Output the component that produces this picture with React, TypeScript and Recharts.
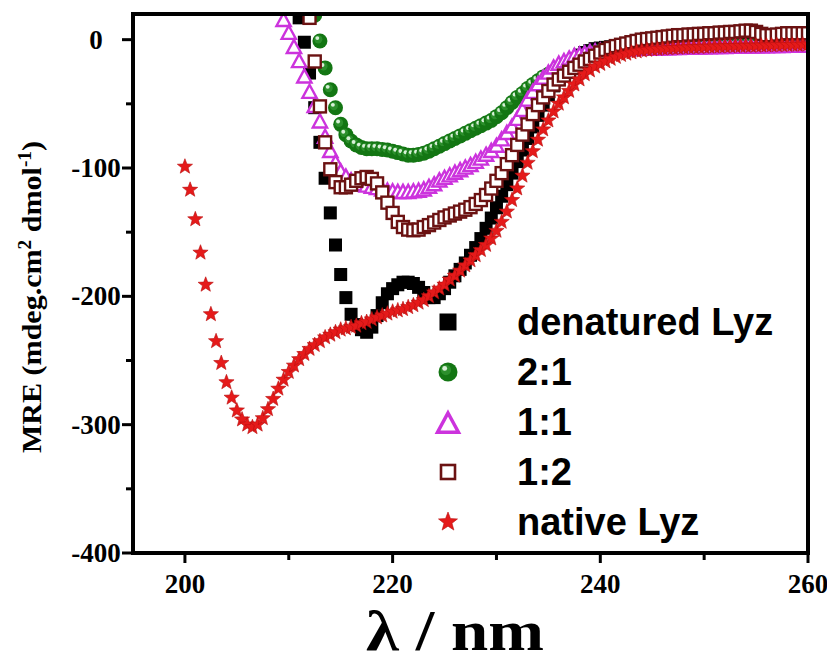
import React from 'react';
import { ScatterChart, Scatter, XAxis, YAxis, ReferenceLine, Legend } from 'recharts';

// wavelength grid of the CD spectra (nm)
const WAVELENGTH = [
  200, 200.5, 201, 201.5, 202, 202.5, 203, 203.5, 204, 204.5,
  205, 205.5, 206, 206.5, 207, 207.5, 208, 208.5, 209, 209.5,
  210, 210.5, 211, 211.5, 212, 212.5, 213, 213.5, 214, 214.5,
  215, 215.5, 216, 216.5, 217, 217.5, 218, 218.5, 219, 219.5,
  220, 220.5, 221, 221.5, 222, 222.5, 223, 223.5, 224, 224.5,
  225, 225.5, 226, 226.5, 227, 227.5, 228, 228.5, 229, 229.5,
  230, 230.5, 231, 231.5, 232, 232.5, 233, 233.5, 234, 234.5,
  235, 235.5, 236, 236.5, 237, 237.5, 238, 238.5, 239, 239.5,
  240, 240.5, 241, 241.5, 242, 242.5, 243, 243.5, 244, 244.5,
  245, 245.5, 246, 246.5, 247, 247.5, 248, 248.5, 249, 249.5,
  250, 250.5, 251, 251.5, 252, 252.5, 253, 253.5, 254, 254.5,
  255, 255.5, 256, 256.5, 257, 257.5, 258, 258.5, 259, 259.5,
  260,
];

// MRE values, each series starts at its own wavelength
const DENATURED_START = 211;
const DENATURED = [
  17, -2, -26, -53, -80, -108, -135, -160, -183, -201,
  -214, -222, -226, -228, -224, -215, -205, -198, -194, -191,
  -189, -189, -190, -193, -197, -201, -201, -198, -194, -189,
  -184, -179, -174, -168, -162, -155, -147, -139, -131, -122,
  -113, -104, -95, -86, -77, -68, -59, -51, -43, -36,
  -30, -24, -19, -15, -12, -10, -8.5, -7, -6.5, -6,
  -5.5, -5, -5, -4.8, -4.6, -4.5, -4.4, -4.3, -4.2, -4.1,
  -4, -4, -4, -4, -3.9, -3.9, -3.8, -3.8, -3.7, -3.7,
  -3.6, -3.6, -3.5, -3.5, -3.5, -3.4, -3.4, -3.3, -3.3, -3.3,
  -3.2, -3.2, -3.2, -3.1, -3.1, -3, -3, -3, -3,
];

const RATIO_2_1_START = 212.5;
const RATIO_2_1 = [
  19, -1, -22, -39, -53, -66, -74, -79, -82, -84,
  -85, -85, -85, -85.5, -86, -87, -88, -89, -90, -90,
  -89.5, -88.5, -87, -85, -83, -81, -79, -77, -75, -73,
  -71, -69, -67, -65, -63, -60, -57, -53, -49, -45,
  -42, -38, -35, -32, -29, -27, -25, -23, -20, -18,
  -16, -14, -12.5, -11, -10, -9, -8.5, -8, -7.7, -7.5,
  -7.3, -7.1, -7, -6.8, -6.7, -6.6, -6.5, -6.4, -6.3, -6.2,
  -6.1, -6, -5.9, -5.8, -5.7, -5.6, -5.5, -5.4, -5.3, -5.2,
  -5.1, -5, -5, -4.9, -4.8, -4.8, -4.7, -4.6, -4.5, -4.5,
  -4.4, -4.3, -4.2, -4.1, -4, -4,
];

const RATIO_1_1_START = 209.5;
const RATIO_1_1 = [
  15, 5, -6, -17, -29, -41, -52, -64, -76, -87,
  -96, -103, -107, -110, -112, -113, -114, -115, -116, -117,
  -118, -118.5, -119, -119, -119, -118.5, -118, -117, -115, -113,
  -110, -108, -106, -104, -102, -100, -98, -95.5, -93, -90,
  -87, -83, -78, -73, -68, -62, -55, -47, -41, -35,
  -30, -26, -22, -19, -17, -15, -13, -12, -11, -10,
  -9.5, -9, -8.7, -8.4, -8.2, -8, -7.8, -7.7, -7.6, -7.5,
  -7.4, -7.3, -7.2, -7.1, -7, -6.9, -6.8, -6.7, -6.6, -6.5,
  -6.4, -6.3, -6.2, -6.1, -6, -6, -5.9, -5.8, -5.7, -5.7,
  -5.6, -5.5, -5.5, -5.4, -5.3, -5.3, -5.2, -5.1, -5.1, -5,
  -5, -5,
];

const RATIO_1_2_START = 212;
const RATIO_1_2 = [
  17, -17, -52, -80, -101, -111, -115, -115, -113, -110,
  -108, -107, -108.5, -112, -119, -127, -135, -142, -146, -148,
  -148.5, -148, -146, -144.5, -142.5, -140.5, -138.5, -137, -135.5, -134,
  -132.5, -130.5, -128, -125, -121, -116, -110, -104, -97, -90,
  -82, -74, -66, -58, -51, -45, -40, -35, -31, -28,
  -25, -22, -19.5, -17, -15, -12.5, -10, -8, -6.5, -5,
  -4, -3, -2, -1, 0, 0.5, 1, 1.5, 2, 2.5,
  3, 3.5, 3.5, 4, 4, 4.5, 4.5, 5, 5, 5.5,
  5.5, 6, 6, 6.5, 7, 7, 6, 4.5, 3.5, 3.5,
  4, 4.5, 5, 5, 5, 5, 5,
];

const NATIVE_START = 200;
const NATIVE = [
  -99, -117, -140, -166, -191, -214, -235, -252, -267, -279,
  -289, -296, -300, -302, -300, -295, -288, -280, -272, -265,
  -259, -254, -249, -245, -241, -238, -235, -232, -230, -228,
  -226, -225, -224, -223, -221, -220, -218, -216.5, -215, -213.5,
  -212, -211, -210, -208.5, -207, -205, -203, -200, -197, -194,
  -191, -187, -184, -180, -176, -172, -168, -164, -160, -155,
  -149, -142, -134, -125, -116, -106, -96, -87, -78, -70,
  -63, -56, -50, -45, -40, -35, -31, -27, -24, -21,
  -19, -17, -15, -13.5, -12, -11, -10, -9.2, -8.5, -8,
  -7.6, -7.3, -7, -6.8, -6.6, -6.4, -6.2, -6, -5.9, -5.8,
  -5.6, -5.5, -5.4, -5.3, -5.2, -5.1, -5, -4.9, -4.8, -4.8,
  -4.7, -4.6, -4.5, -4.4, -4.3, -4.2, -4.1, -4, -4, -3.9,
  -3.8,
];

const X_TICKS = [200, 210, 220, 230, 240, 250, 260];
const Y_TICKS = [-400, -350, -300, -250, -200, -150, -100, -50, 0];
const LEGEND_LABELS = ['denatured Lyz', '2:1', '1:1', '1:2', 'native Lyz'];

const toPoints = (start: number, values: number[]) => {
  const i0 = WAVELENGTH.indexOf(start);
  return values.map((v, i) => ({ x: WAVELENGTH[i0 + i], y: v }));
};

const SERIF = '"Liberation Serif", "Times New Roman", serif';
const SANS = '"Liberation Sans", Arial, sans-serif';

const GREEN = '#137613';
const MAGENTA = '#cc33dd';
const BROWN = '#6b1212';
const RED = '#e51a1a';

// chart box
const W = 827;
const H = 662;
const MARGIN = { top: 14, right: 19, left: 0, bottom: 0 };
const Y_AXIS_W = 133;
const X_AXIS_H = 109;

// marker shapes
const BlackSquare = ({ cx, cy, s = 13 }: any) => (
  <rect x={cx - s / 2} y={cy - s / 2} width={s} height={s} fill="#000" />
);

const Sphere = ({ cx, cy, r = 7.5 }: any) => (
  <g>
    <circle cx={cx} cy={cy} r={r} fill={GREEN} />
    <circle cx={cx - r * 0.22} cy={cy - r * 0.22} r={r * 0.55} fill="#2c8f2c" />
    <circle cx={cx - r * 0.35} cy={cy - r * 0.38} r={r * 0.26} fill="#d8f0d8" />
  </g>
);

const Triangle = ({ cx, cy, s = 7.5, w = 2.4 }: any) => (
  <polygon
    points={`${cx},${cy - s} ${cx + s * 0.95},${cy + s * 0.75} ${cx - s * 0.95},${cy + s * 0.75}`}
    fill="#fff"
    stroke={MAGENTA}
    strokeWidth={w}
  />
);

const OpenSquare = ({ cx, cy, s = 12, w = 2.4 }: any) => (
  <rect x={cx - s / 2} y={cy - s / 2} width={s} height={s} fill="#fff" stroke={BROWN} strokeWidth={w} />
);

const Star = ({ cx, cy, R = 8 }: any) => {
  const pts: string[] = [];
  for (let i = 0; i < 10; i++) {
    const a = -Math.PI / 2 + (i * Math.PI) / 5;
    const rad = i % 2 === 0 ? R : R * 0.42;
    pts.push(`${cx + rad * Math.cos(a)},${cy + rad * Math.sin(a)}`);
  }
  return <polygon points={pts.join(' ')} fill={RED} stroke="#b80f0f" strokeWidth={0.6} />;
};

const XTick = (props: any) => {
  const { x, y, payload } = props;
  const major = payload.value % 20 === 0;
  return (
    <g>
      <line x1={x} x2={x} y1={y} y2={y + (major ? 10 : 7)} stroke="#000" strokeWidth={3} />
      {major && (
        <text x={x} y={y + 40} textAnchor="middle" fontFamily={SERIF} fontWeight="bold" fontSize={27} fill="#000">
          {payload.value}
        </text>
      )}
    </g>
  );
};

const YTick = (props: any) => {
  const { x, y, payload } = props;
  const major = payload.value % 100 === 0;
  return (
    <g>
      <line x1={x} x2={x - (major ? 11 : 7)} y1={y} y2={y} stroke="#000" strokeWidth={3} />
      {major && (
        <text x={x - 37} y={y + 9} textAnchor="middle" fontFamily={SERIF} fontWeight="bold" fontSize={27} fill="#000">
          {payload.value}
        </text>
      )}
    </g>
  );
};

const YTitle = () => (
  <text
    transform="translate(41, 297) rotate(-90)"
    textAnchor="middle"
    textLength={312}
    lengthAdjust="spacingAndGlyphs"
    fontFamily={SERIF}
    fontWeight="bold"
    fontSize={28}
    fill="#000"
  >
    MRE (mdeg.cm<tspan dy={-10} fontSize={18}>2</tspan>
    <tspan dy={10}> dmol</tspan>
    <tspan dy={-10} fontSize={18}>-1</tspan>
    <tspan dy={10}>)</tspan>
  </text>
);

const XTitle = () => (
  <text
    x={455}
    y={650}
    textAnchor="middle"
    textLength={178}
    lengthAdjust="spacingAndGlyphs"
    fontFamily={SERIF}
    fontWeight="bold"
    fontSize={56}
    fill="#000"
  >
    λ / nm
  </text>
);

const LEGEND_ICONS = [
  <BlackSquare cx={26} cy={25} s={17} />,
  <Sphere cx={26} cy={25} r={9.5} />,
  <Triangle cx={26} cy={27} s={11} w={3.5} />,
  <OpenSquare cx={26} cy={25} s={14} w={2.6} />,
  <Star cx={26} cy={25} R={10} />,
];

const LegendBox = () => (
  <div>
    {LEGEND_LABELS.map((label, i) => (
      <div key={label} style={{ display: 'flex', alignItems: 'center', height: 50 }}>
        <svg width={52} height={50} style={{ flex: 'none' }}>
          {LEGEND_ICONS[i]}
        </svg>
        <span style={{ marginLeft: 43, fontFamily: SANS, fontWeight: 'bold', fontSize: 38, color: '#000', whiteSpace: 'nowrap' }}>
          {label}
        </span>
      </div>
    ))}
  </div>
);

const FRAME = { stroke: '#000', strokeWidth: 4 };

export default function App() {
  const left = MARGIN.left + Y_AXIS_W;
  const right = W - MARGIN.right;
  const top = MARGIN.top;
  const bottom = H - MARGIN.bottom - X_AXIS_H;
  return (
    <div style={{ position: 'absolute', left: 0, top: 0, width: W, height: H, background: '#fff' }}>
      <ScatterChart width={W} height={H} margin={MARGIN}>
        <XAxis
          type="number"
          dataKey="x"
          domain={[195, 260]}
          ticks={X_TICKS}
          interval={0}
          allowDataOverflow
          height={X_AXIS_H}
          axisLine={FRAME}
          tickLine={false}
          tickSize={0}
          tickMargin={0}
          tick={<XTick />}
          label={<XTitle />}
        />
        <YAxis
          type="number"
          dataKey="y"
          domain={[-400, 20]}
          ticks={Y_TICKS}
          interval={0}
          allowDataOverflow
          width={Y_AXIS_W}
          axisLine={FRAME}
          tickLine={false}
          tickSize={0}
          tickMargin={0}
          tick={<YTick />}
          label={<YTitle />}
        />
        <Scatter data={toPoints(DENATURED_START, DENATURED)} shape={(p: any) => <BlackSquare cx={p.cx} cy={p.cy} />} isAnimationActive={false} />
        <Scatter data={toPoints(RATIO_2_1_START, RATIO_2_1)} shape={(p: any) => <Sphere cx={p.cx} cy={p.cy} />} isAnimationActive={false} />
        <Scatter data={toPoints(RATIO_1_1_START, RATIO_1_1)} shape={(p: any) => <Triangle cx={p.cx} cy={p.cy} />} isAnimationActive={false} />
        <Scatter data={toPoints(RATIO_1_2_START, RATIO_1_2)} shape={(p: any) => <OpenSquare cx={p.cx} cy={p.cy} />} isAnimationActive={false} />
        <Scatter data={toPoints(NATIVE_START, NATIVE)} shape={(p: any) => <Star cx={p.cx} cy={p.cy} />} isAnimationActive={false} />
        <ReferenceLine y={-400} ifOverflow="visible" {...FRAME} />
        <Legend
          layout="vertical"
          align="center"
          verticalAlign="middle"
          content={<LegendBox />}
          wrapperStyle={{ left: 422, top: 297, width: 400 }}
        />
      </ScatterChart>
      {/* box frame round the plot area, drawn as four separate strokes */}
      <svg
        width={W}
        height={H}
        style={{ position: 'absolute', left: 0, top: 0, pointerEvents: 'none', zIndex: 5 }}
      >
        <g stroke="#000" strokeWidth={4} strokeLinecap="square">
          <line x1={left} y1={top} x2={right} y2={top} />
          <line x1={right} y1={top} x2={right} y2={bottom} />
          <line x1={left} y1={top} x2={left} y2={bottom} />
          <line x1={left} y1={bottom} x2={right} y2={bottom} />
        </g>
      </svg>
    </div>
  );
}
